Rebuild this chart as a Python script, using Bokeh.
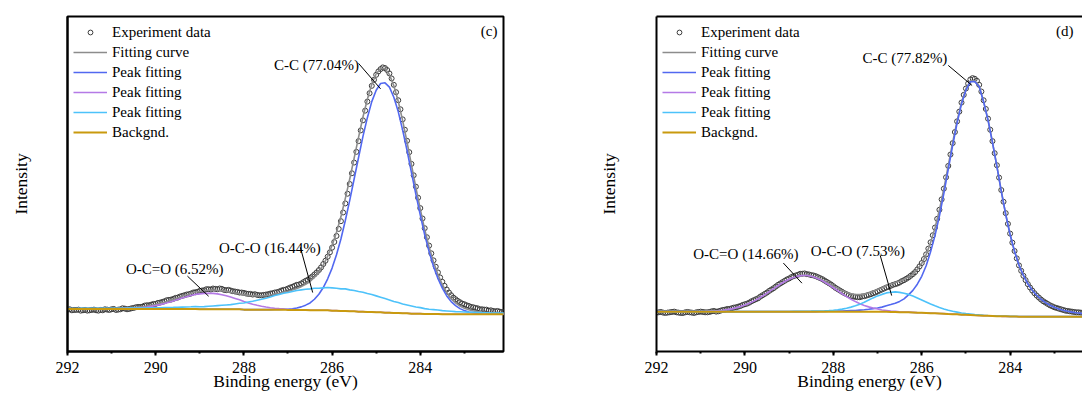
import numpy as np
from bokeh.plotting import figure
from bokeh.models import (Range1d, SingleIntervalTicker, FixedTicker, LinearAxis,
                          Legend, LegendItem, Label)
from bokeh.layouts import row
from bokeh.embed import file_html
from bokeh.resources import INLINE

# ---------------- data ----------------
# binding energy grids (eV): measured points every 0.05 eV, fitted curves every 0.1 eV
data_energy = [round(292.0 - 0.05 * i, 2) for i in range(200)]
energy = [round(292.0 - 0.1 * i, 1) for i in range(100)]

# panel (c) experiment data
c_data = [12.5, 12.6, 12.3, 12.4, 12.4, 12.5, 12.2, 12.3, 12.4, 12.2,
          12.3, 12.4, 12.5, 12.3, 12.2, 12.4, 12.3, 12.6, 12.5, 12.4,
          12.6, 12.7, 12.4, 12.5, 12.6, 12.9, 12.8, 12.6, 12.7, 12.9,
          13.0, 13.2, 13.3, 13.3, 13.4, 13.7, 13.8, 13.8, 14.0, 14.2,
          14.2, 14.5, 14.6, 14.8, 15.0, 15.3, 15.4, 15.5, 15.7, 16.0,
          16.1, 16.4, 16.6, 16.8, 17.0, 17.1, 17.3, 17.6, 17.7, 17.8,
          18.1, 18.2, 18.3, 18.6, 18.6, 18.5, 18.8, 18.7, 18.6, 18.8,
          18.7, 18.4, 18.3, 18.4, 18.2, 18.0, 17.9, 17.8, 17.6, 17.6,
          17.5, 17.3, 17.2, 17.2, 17.0, 17.1, 16.9, 16.8, 16.8, 16.9,
          17.0, 17.1, 17.3, 17.4, 17.6, 17.7, 17.9, 18.2, 18.4, 18.5,
          18.8, 19.1, 19.3, 19.6, 19.9, 20.0, 20.3, 20.7, 21.1, 21.4,
          21.9, 22.4, 23.0, 23.6, 24.3, 25.1, 26.1, 27.1, 28.3, 29.6,
          31.0, 32.7, 34.5, 36.6, 38.9, 41.5, 44.2, 47.1, 50.0, 53.2,
          56.4, 59.6, 62.8, 66.0, 69.0, 71.9, 74.6, 77.1, 79.3, 81.1,
          82.6, 83.6, 84.3, 84.8, 84.6, 84.0, 83.0, 81.5, 79.6, 77.4,
          75.0, 72.3, 69.3, 66.2, 62.9, 59.5, 56.0, 52.6, 49.2, 45.9,
          42.8, 39.7, 36.8, 34.1, 31.6, 29.3, 27.2, 25.3, 23.6, 22.1,
          20.8, 19.6, 18.5, 17.6, 16.8, 16.1, 15.6, 15.1, 14.7, 14.3,
          14.1, 13.8, 13.6, 13.3, 13.2, 13.0, 12.9, 12.6, 12.6, 12.5,
          12.5, 12.2, 12.3, 12.1, 12.0, 12.1, 11.9, 11.8, 11.8, 11.7]
# panel (c) background and peak components (height above background)
c_bg = ([12.7] * 30 + [12.6] * 10 + [12.5] * 10 + [12.4] * 5 + [12.3] * 5 +
        [12.2, 12.2, 12.1, 12.1, 12.0, 12.0, 11.9, 11.9, 11.8, 11.8,
         11.7, 11.7, 11.6, 11.6, 11.5, 11.5, 11.4, 11.4, 11.3, 11.3,
         11.3, 11.2, 11.2, 11.2, 11.2] + [11.1] * 15)
c_cc = ([0.0] * 47 +
        [0.04, 0.07, 0.12, 0.2, 0.35, 0.58, 0.92, 1.44, 2.2, 3.3,
         4.8, 6.8, 9.4, 12.7, 16.7, 21.5, 27.0, 33.1, 39.5, 46.0,
         52.3, 58.0, 62.8, 66.3, 68.3, 68.6, 67.3, 64.4, 60.1, 54.7,
         48.6, 42.1, 35.6, 29.4, 23.6, 18.6, 14.2, 10.6, 7.8, 5.5,
         3.8, 2.6, 1.7, 1.1, 0.7, 0.43, 0.26, 0.15, 0.08, 0.05,
         0.02, 0.01, 0.0])
c_oco = [0.14, 0.15, 0.15, 0.16, 0.16, 0.17, 0.18, 0.18, 0.19, 0.19,
         0.2, 0.21, 0.22, 0.23, 0.25, 0.27, 0.28, 0.3, 0.31, 0.32,
         0.35, 0.38, 0.41, 0.43, 0.46, 0.5, 0.55, 0.6, 0.64, 0.7,
         0.75, 0.8, 0.9, 1.0, 1.1, 1.2, 1.3, 1.4, 1.6, 1.8,
         2.0, 2.3, 2.5, 2.8, 3.1, 3.4, 3.8, 4.2, 4.5, 4.9,
         5.2, 5.5, 5.8, 6.0, 6.2, 6.4, 6.6, 6.6, 6.7, 6.8,
         6.8, 6.7, 6.6, 6.6, 6.4, 6.2, 6.0, 5.8, 5.5, 5.2,
         4.9, 4.5, 4.2, 3.8, 3.4, 3.1, 2.8, 2.5, 2.3, 2.0,
         1.8, 1.6, 1.4, 1.3, 1.2, 1.1, 1.0, 0.9, 0.8, 0.75,
         0.7, 0.64, 0.6, 0.55, 0.5, 0.46, 0.43, 0.41, 0.38, 0.35]
c_ocoo = ([0.0] * 10 +
          [0.03, 0.04, 0.06, 0.1, 0.14, 0.21, 0.3, 0.42, 0.58, 0.77,
           1.01, 1.3, 1.63, 2.0, 2.4, 2.82, 3.25, 3.66, 4.04, 4.35,
           4.6, 4.75, 4.8, 4.75, 4.6, 4.35, 4.04, 3.66, 3.25, 2.82,
           2.4, 2.0, 1.63, 1.3, 1.01, 0.77, 0.58, 0.42, 0.3, 0.21,
           0.14, 0.1, 0.06, 0.04, 0.02] + [0.0] * 45)

# panel (d) experiment data
d_data = [11.6, 11.7, 11.8, 11.6, 11.5, 11.6, 11.7, 11.8, 11.9, 11.7,
          11.6, 11.5, 11.5, 11.7, 11.8, 11.7, 11.6, 11.5, 11.7, 11.8,
          11.9, 11.8, 11.7, 11.7, 11.8, 12.0, 12.1, 11.9, 12.0, 12.2,
          12.4, 12.5, 12.7, 12.7, 12.9, 13.1, 13.2, 13.4, 13.6, 13.9,
          14.1, 14.3, 14.6, 15.0, 15.3, 15.6, 15.9, 16.4, 16.8, 17.2,
          17.6, 18.1, 18.5, 18.9, 19.4, 19.9, 20.3, 20.7, 21.1, 21.5,
          21.8, 22.2, 22.5, 22.7, 22.9, 23.2, 23.2, 23.3, 23.1, 23.0,
          22.8, 22.7, 22.5, 22.2, 21.9, 21.6, 21.2, 20.8, 20.4, 20.0,
          19.5, 19.0, 18.6, 18.2, 17.8, 17.4, 17.1, 16.8, 16.5, 16.4,
          16.3, 16.2, 16.2, 16.4, 16.5, 16.7, 16.9, 17.1, 17.4, 17.6,
          17.9, 18.2, 18.5, 18.8, 19.1, 19.3, 19.6, 19.9, 20.1, 20.3,
          20.6, 21.0, 21.3, 21.7, 22.1, 22.6, 23.1, 23.7, 24.5, 25.4,
          26.4, 27.6, 29.0, 30.7, 32.6, 34.7, 37.0, 39.6, 42.3, 45.4,
          48.6, 52.0, 55.4, 58.8, 62.2, 65.5, 68.7, 71.6, 74.3, 76.6,
          78.5, 80.0, 81.2, 81.6, 81.4, 80.8, 79.6, 77.6, 75.0, 72.4,
          69.5, 66.2, 62.8, 59.2, 55.6, 51.9, 48.2, 44.7, 41.3, 38.1,
          35.2, 32.5, 30.0, 27.8, 25.7, 24.1, 22.6, 21.3, 20.1, 19.1,
          18.2, 17.4, 16.7, 16.1, 15.5, 15.0, 14.6, 14.2, 13.8, 13.5,
          13.2, 13.0, 12.8, 12.6, 12.4, 12.2, 12.1, 12.0, 11.9, 11.8,
          11.7, 11.7, 11.6, 11.5, 11.5, 11.4, 11.4, 11.3, 11.3, 11.2]
# panel (d) background and peak components (height above background)
d_bg = ([11.9] * 51 +
        [11.85, 11.85, 11.8, 11.8, 11.75, 11.7, 11.7, 11.65, 11.6, 11.55,
         11.5, 11.45, 11.4, 11.35, 11.3, 11.2, 11.15, 11.1, 11.0, 10.95,
         10.9, 10.8, 10.75, 10.7, 10.65, 10.6, 10.55, 10.5, 10.5, 10.45,
         10.45, 10.4] + [10.4] * 17)
d_cc = ([0.0] * 37 +
        [0.05, 0.05, 0.1, 0.1, 0.15, 0.2, 0.25, 0.3, 0.35, 0.45,
         0.55, 0.7, 0.9, 1.1, 1.4, 1.8, 2.2, 2.6, 3.2, 4.0,
         5.2, 6.6, 8.5, 10.9, 14.1, 18.3, 23.2, 29.1, 35.8, 43.2,
         50.4, 57.1, 62.9, 67.1, 69.6, 69.8, 68.3, 63.8, 58.4, 51.8,
         44.7, 37.3, 30.4, 24.4, 19.4, 15.4, 12.3, 9.8, 7.9, 6.4,
         5.2, 4.2, 3.4, 2.8, 2.3, 1.9, 1.6, 1.35, 1.15, 1.0,
         0.9, 0.8, 0.7])
d_oco = ([0.0] * 22 +
         [0.01, 0.01, 0.02, 0.02, 0.03, 0.03, 0.04, 0.05, 0.06, 0.07,
          0.08, 0.1, 0.12, 0.14, 0.17, 0.21, 0.26, 0.33, 0.42, 0.55,
          0.75, 1.0, 1.35, 1.73, 2.24, 2.82, 3.45, 4.1, 4.7, 5.2,
          5.64, 5.9, 6.0, 5.9, 5.7, 5.35, 4.9, 4.4, 3.85, 3.3,
          2.75, 2.25, 1.8, 1.4, 1.1, 0.85, 0.65, 0.5, 0.38, 0.3,
          0.23, 0.18, 0.14, 0.11, 0.09, 0.07, 0.06, 0.05, 0.04, 0.04,
          0.03, 0.03, 0.02, 0.02, 0.01, 0.01, 0.0, 0.0, 0.0, 0.0] + [0.0] * 8)
d_ocoo = ([0.0] * 9 +
          [0.04, 0.06, 0.09, 0.14, 0.21, 0.3, 0.43, 0.6, 0.83, 1.13,
           1.5, 1.95, 2.5, 3.13, 3.86, 4.66, 5.52, 6.41, 7.31, 8.18,
           8.98, 9.67, 10.2, 10.6, 10.78, 10.77, 10.54, 10.1, 9.55, 8.83,
           8.01, 7.13, 6.23, 5.34, 4.49, 3.7, 3.0, 2.38, 1.86, 1.42,
           1.06, 0.78, 0.56, 0.4, 0.28, 0.19, 0.12, 0.08, 0.05, 0.03] + [0.0] * 41)

legend_labels = ["Experiment data", "Fitting curve", "Peak fitting",
                 "Peak fitting", "Peak fitting", "Backgnd."]

# annotations: (text, text_x, text_y, leader x0, y0, x1, y1) in data units
c_notes = [("C-C (77.04%)", 285.39, 85.4, 285.40, 86.0, 284.90, 78.4),
           ("O-C-O (16.44%)", 286.26, 31.0, 286.72, 31.1, 286.44, 17.6),
           ("O-C=O (6.52%)", 288.46, 24.7, 289.28, 22.5, 288.80, 16.5)]
d_notes = [("C-C (77.82%)", 285.42, 87.5, 285.40, 85.4, 284.86, 79.4),
           ("O-C-O (7.53%)", 286.38, 30.1, 286.94, 28.7, 286.68, 16.7),
           ("O-C=O (14.66%)", 288.79, 29.2, 289.13, 26.4, 288.71, 20.4)]

# ---------------- styling ----------------
FONT = "Liberation Serif"
COL_DATA = "#3c3c3c"
COL_FIT = "#8c8c8c"
COL_CC = "#5268f0"
COL_OCOO = "#b47ae6"
COL_OCO = "#4dc2fa"
COL_BG = "#c99a0e"


def make_panel(data, bg, cc, oco, ocoo, notes, tag, tag_x, x_end, width,
               min_left, min_right, ylab_standoff, boxed):
    E = np.array(energy)
    bg = np.array(bg)
    cc = np.array(cc)
    oco = np.array(oco)
    ocoo = np.array(ocoo)
    fit = bg + cc + oco + ocoo

    p = figure(width=width, height=394, x_range=Range1d(292, x_end),
               y_range=Range1d(0, 100), output_backend="svg",
               toolbar_location=None, min_border_left=min_left,
               min_border_right=min_right, min_border_top=16,
               min_border_bottom=43)
    p.grid.visible = False
    p.background_fill_color = "white"
    p.border_fill_color = "white"

    xa = p.below[0]
    xa.ticker = SingleIntervalTicker(interval=2, num_minor_ticks=2)
    xa.axis_line_width = 2
    xa.axis_line_color = "black"
    xa.major_tick_in = 0
    xa.major_tick_out = 4
    xa.minor_tick_in = 0
    xa.minor_tick_out = 2
    xa.major_tick_line_width = 2
    xa.minor_tick_line_width = 2
    xa.major_tick_line_color = "black"
    xa.minor_tick_line_color = "black"
    xa.major_label_text_font = FONT
    xa.major_label_text_font_size = "16px"
    xa.major_label_text_color = "black"
    xa.major_label_standoff = 6
    xa.axis_label = "Binding energy (eV)"
    xa.axis_label_text_font = FONT
    xa.axis_label_text_font_size = "17.5px"
    xa.axis_label_text_font_style = "normal"
    xa.axis_label_text_color = "black"
    xa.axis_label_standoff = -5

    ya = p.left[0]
    ya.ticker = FixedTicker(ticks=[])
    ya.axis_line_width = 2
    ya.axis_line_color = "black"
    ya.major_tick_out = 0
    ya.major_tick_in = 0
    ya.minor_tick_out = 0
    ya.major_label_standoff = 0
    ya.axis_label = "Intensity"
    ya.axis_label_text_font = FONT
    ya.axis_label_text_font_size = "17.5px"
    ya.axis_label_text_font_style = "normal"
    ya.axis_label_text_color = "black"
    ya.axis_label_standoff = ylab_standoff

    if boxed:
        p.outline_line_color = "black"
        p.outline_line_width = 2
        p.outline_line_alpha = 1
    else:
        p.outline_line_color = None
        top = LinearAxis(ticker=FixedTicker(ticks=[]), major_tick_out=0,
                         major_tick_in=0, minor_tick_out=0, minor_tick_in=0,
                         axis_line_width=2, axis_line_color="black",
                         major_label_standoff=0, axis_label=None)
        p.add_layout(top, "above")

    r_data = p.scatter(np.array(data_energy), np.array(data), marker="circle",
                       size=5, fill_color=None, line_color=COL_DATA,
                       line_width=1)
    r_fit = p.line(E, fit, line_color=COL_FIT, line_width=1.6)
    r_cc = p.line(E, bg + cc, line_color=COL_CC, line_width=1.6)
    r_ocoo = p.line(E, bg + ocoo, line_color=COL_OCOO, line_width=1.6)
    r_oco = p.line(E, bg + oco, line_color=COL_OCO, line_width=1.6)
    r_bg = p.line(E, bg, line_color=COL_BG, line_width=2)

    rends = [r_data, r_fit, r_cc, r_ocoo, r_oco, r_bg]
    items = [LegendItem(label=lab, renderers=[r]) for lab, r in zip(legend_labels, rends)]
    leg = Legend(items=items, location="top_left", margin=6, padding=0,
                 spacing=0, glyph_width=34, glyph_height=12, label_height=20,
                 label_standoff=5, label_text_font=FONT,
                 label_text_font_size="15px", label_text_color="black",
                 border_line_color=None, background_fill_alpha=0)
    p.add_layout(leg)

    for txt, tx, ty, x0, y0, x1, y1 in notes:
        p.add_layout(Label(x=tx, y=ty, text=txt, text_align="right",
                           text_baseline="middle", text_font=FONT,
                           text_font_size="15px", text_color="black"))
    p.segment(x0=[n[3] for n in notes], y0=[n[4] for n in notes],
              x1=[n[5] for n in notes], y1=[n[6] for n in notes],
              line_color="black", line_width=1)

    p.add_layout(Label(x=tag_x, y=95.8, text=tag, text_align="right",
                       text_baseline="middle", text_font=FONT,
                       text_font_size="15px", text_color="black"))
    return p


pc = make_panel(c_data, c_bg, c_cc, c_oco, c_ocoo, c_notes, "(c)", 282.25,
                282.113, 595, 67, 92, 37, True)
pd = make_panel(d_data, d_bg, d_cc, d_oco, d_ocoo, d_notes, "(d)", 282.567,
                282.363, 487, 59, 0, 38, False)

layout = row(pc, pd)
open("out.html", "w").write(file_html(layout, INLINE))
